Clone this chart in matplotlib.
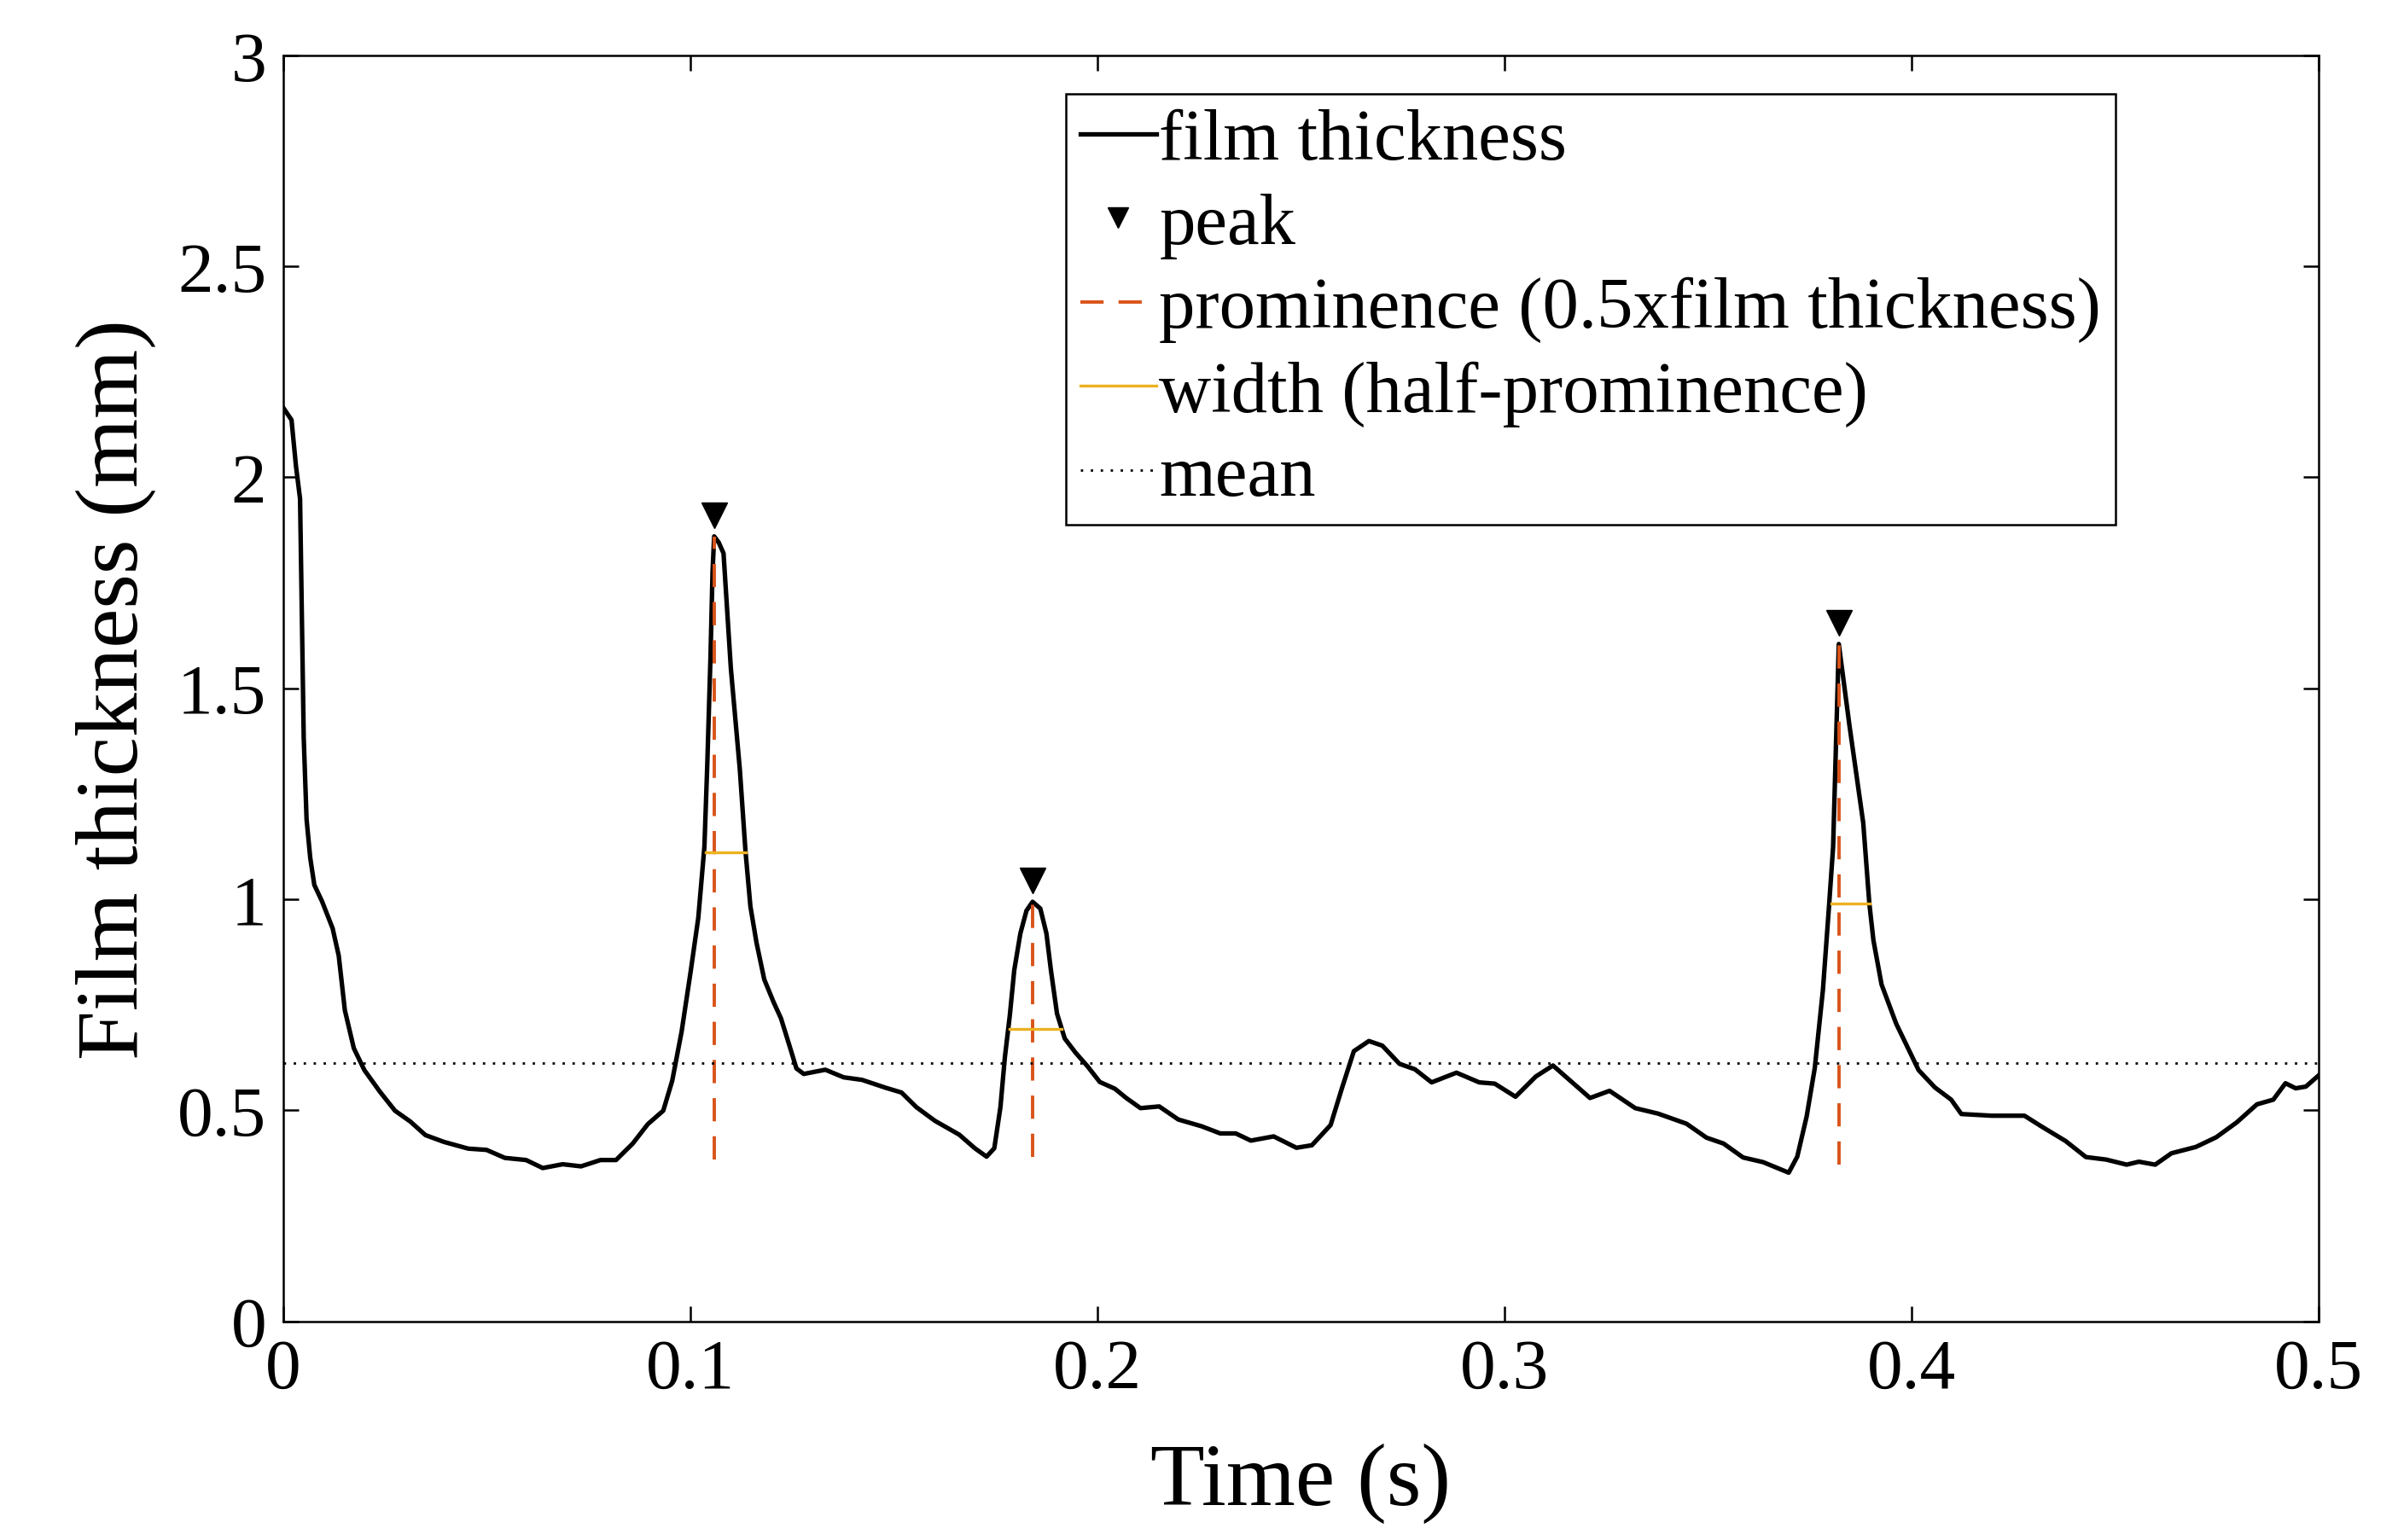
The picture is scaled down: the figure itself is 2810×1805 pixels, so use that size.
import numpy as np
import matplotlib.pyplot as plt
from matplotlib.transforms import offset_copy

plt.rcParams["font.family"] = ["Liberation Serif", "DejaVu Serif"]
plt.rcParams["axes.unicode_minus"] = False

# film thickness trace (time in s, thickness in mm)
t = [0.0000, 0.0021, 0.0032, 0.0042, 0.0047, 0.0051, 0.0058, 0.0067, 0.0077, 0.0096,
     0.0122, 0.0137, 0.0152, 0.0174, 0.0200, 0.0238, 0.0275, 0.0313, 0.0350, 0.0395,
     0.0455, 0.0500, 0.0545, 0.0597, 0.0638, 0.0687, 0.0732, 0.0780, 0.0818, 0.0859,
     0.0896, 0.0934, 0.0956, 0.0979, 0.1001, 0.1020, 0.1035, 0.1042, 0.1050, 0.1055,
     0.1059, 0.1070, 0.1082, 0.1100, 0.1122, 0.1136, 0.1148, 0.1163, 0.1182, 0.1205,
     0.1223, 0.1242, 0.1261, 0.1279, 0.1332, 0.1377, 0.1422, 0.1481, 0.1519, 0.1556,
     0.1601, 0.1661, 0.1699, 0.1728, 0.1747, 0.1762, 0.1773, 0.1785, 0.1796, 0.1811,
     0.1826, 0.1841, 0.1860, 0.1875, 0.1886, 0.1901, 0.1920, 0.1946, 0.1976, 0.2006,
     0.2043, 0.2071, 0.2106, 0.2152, 0.2199, 0.2256, 0.2302, 0.2340, 0.2377, 0.2433,
     0.2489, 0.2527, 0.2573, 0.2601, 0.2630, 0.2667, 0.2700, 0.2742, 0.2780, 0.2821,
     0.2882, 0.2938, 0.2976, 0.3027, 0.3077, 0.3119, 0.3210, 0.3258, 0.3321, 0.3377,
     0.3447, 0.3496, 0.3538, 0.3586, 0.3635, 0.3698, 0.3719, 0.3742, 0.3762, 0.3782,
     0.3797, 0.3807, 0.3821, 0.3847, 0.3881, 0.3896, 0.3906, 0.3926, 0.3962, 0.4017,
     0.4057, 0.4097, 0.4122, 0.4197, 0.4277, 0.4318, 0.4378, 0.4428, 0.4478, 0.4528,
     0.4558, 0.4598, 0.4638, 0.4698, 0.4748, 0.4798, 0.4848, 0.4888, 0.4918, 0.4943,
     0.4968, 0.5000]
h = [2.166, 2.136, 2.026, 1.949, 1.640, 1.382, 1.189, 1.098, 1.034, 0.995,
     0.931, 0.866, 0.737, 0.647, 0.595, 0.544, 0.499, 0.473, 0.441, 0.425,
     0.409, 0.406, 0.387, 0.382, 0.363, 0.372, 0.367, 0.382, 0.382, 0.421,
     0.467, 0.499, 0.570, 0.686, 0.827, 0.956, 1.124, 1.317, 1.575, 1.776,
     1.860, 1.846, 1.820, 1.547, 1.308, 1.113, 0.983, 0.897, 0.810, 0.756,
     0.718, 0.659, 0.599, 0.586, 0.596, 0.578, 0.572, 0.553, 0.542, 0.507,
     0.475, 0.442, 0.410, 0.390, 0.410, 0.507, 0.626, 0.724, 0.832, 0.919,
     0.973, 0.994, 0.978, 0.919, 0.832, 0.729, 0.670, 0.637, 0.604, 0.567,
     0.551, 0.529, 0.505, 0.509, 0.478, 0.462, 0.445, 0.445, 0.428, 0.438,
     0.411, 0.417, 0.465, 0.553, 0.640, 0.664, 0.653, 0.610, 0.597, 0.566,
     0.589, 0.566, 0.563, 0.532, 0.580, 0.606, 0.529, 0.546, 0.505, 0.492,
     0.468, 0.435, 0.421, 0.388, 0.377, 0.352, 0.390, 0.485, 0.600, 0.785,
     0.984, 1.123, 1.605, 1.413, 1.181, 0.990, 0.903, 0.798, 0.705, 0.595,
     0.554, 0.525, 0.491, 0.487, 0.487, 0.462, 0.427, 0.389, 0.383, 0.371,
     0.378, 0.371, 0.398, 0.413, 0.436, 0.471, 0.514, 0.525, 0.564, 0.552,
     0.556, 0.583]

# detected peaks
peak_t = [0.1059, 0.1841, 0.3821]
peak_h = [1.860, 0.994, 1.605]
peak_base = [0.383, 0.390, 0.371]
# half-prominence widths
width_h = [1.111, 0.693, 0.990]
width_left = [0.1039, 0.1785, 0.3802]
width_right = [0.1136, 0.1912, 0.3896]
mean_h = 0.612

xticks = [0, 0.1, 0.2, 0.3, 0.4, 0.5]
xtick_labels = ["0", "0.1", "0.2", "0.3", "0.4", "0.5"]
yticks = [0, 0.5, 1, 1.5, 2, 2.5, 3]
ytick_labels = ["0", "0.5", "1", "1.5", "2", "2.5", "3"]

fig = plt.figure(figsize=(28.10, 18.06), dpi=100)
ax = fig.add_axes([0.118, 0.142, 0.849, 0.8215])

ax.plot(t, h, color="black", lw=3.8, label="film thickness")
mk = offset_copy(ax.transData, fig=fig, x=0, y=18, units="points")
ax.plot(peak_t, peak_h, linestyle="none", marker="v", color="black",
        markersize=21, transform=mk, label="peak")
for i in range(len(peak_t)):
    ax.plot([peak_t[i], peak_t[i]], [peak_base[i], peak_h[i]], color="#D95319",
            lw=2.8, dashes=(7, 4.5), label="prominence (0.5xfilm thickness)" if i == 0 else None)
    ax.plot([width_left[i], width_right[i]], [width_h[i], width_h[i]], color="#EDB120",
            lw=2.4, label="width (half-prominence)" if i == 0 else None)
ax.axhline(mean_h, color="black", lw=2.0, linestyle=(0, (1, 3.2)), label="mean")

ax.set_xlim(0, 0.5)
ax.set_ylim(0, 3)
ax.set_xticks(xticks)
ax.set_xticklabels(xtick_labels)
ax.set_yticks(yticks)
ax.set_yticklabels(ytick_labels)
ax.tick_params(direction="in", length=13, width=1.8, labelsize=60,
               top=True, right=True, pad=14)
for s in ax.spines.values():
    s.set_linewidth(1.8)
ax.set_xlabel("Time (s)", fontsize=75, labelpad=34)
ax.set_ylabel("Film thickness (mm)", fontsize=75, labelpad=18)

leg = ax.legend(loc="upper left", bbox_to_anchor=(0.4445, 0.9385),
                bbox_transform=fig.transFigure, fontsize=61, frameon=True,
                fancybox=False, edgecolor="black", framealpha=1,
                handlelength=1.05, handletextpad=0.04, labelspacing=0.25,
                borderpad=0.2, borderaxespad=0, markerscale=0.8)
leg.get_frame().set_linewidth(1.8)

plt.savefig("out.png", dpi=100)
